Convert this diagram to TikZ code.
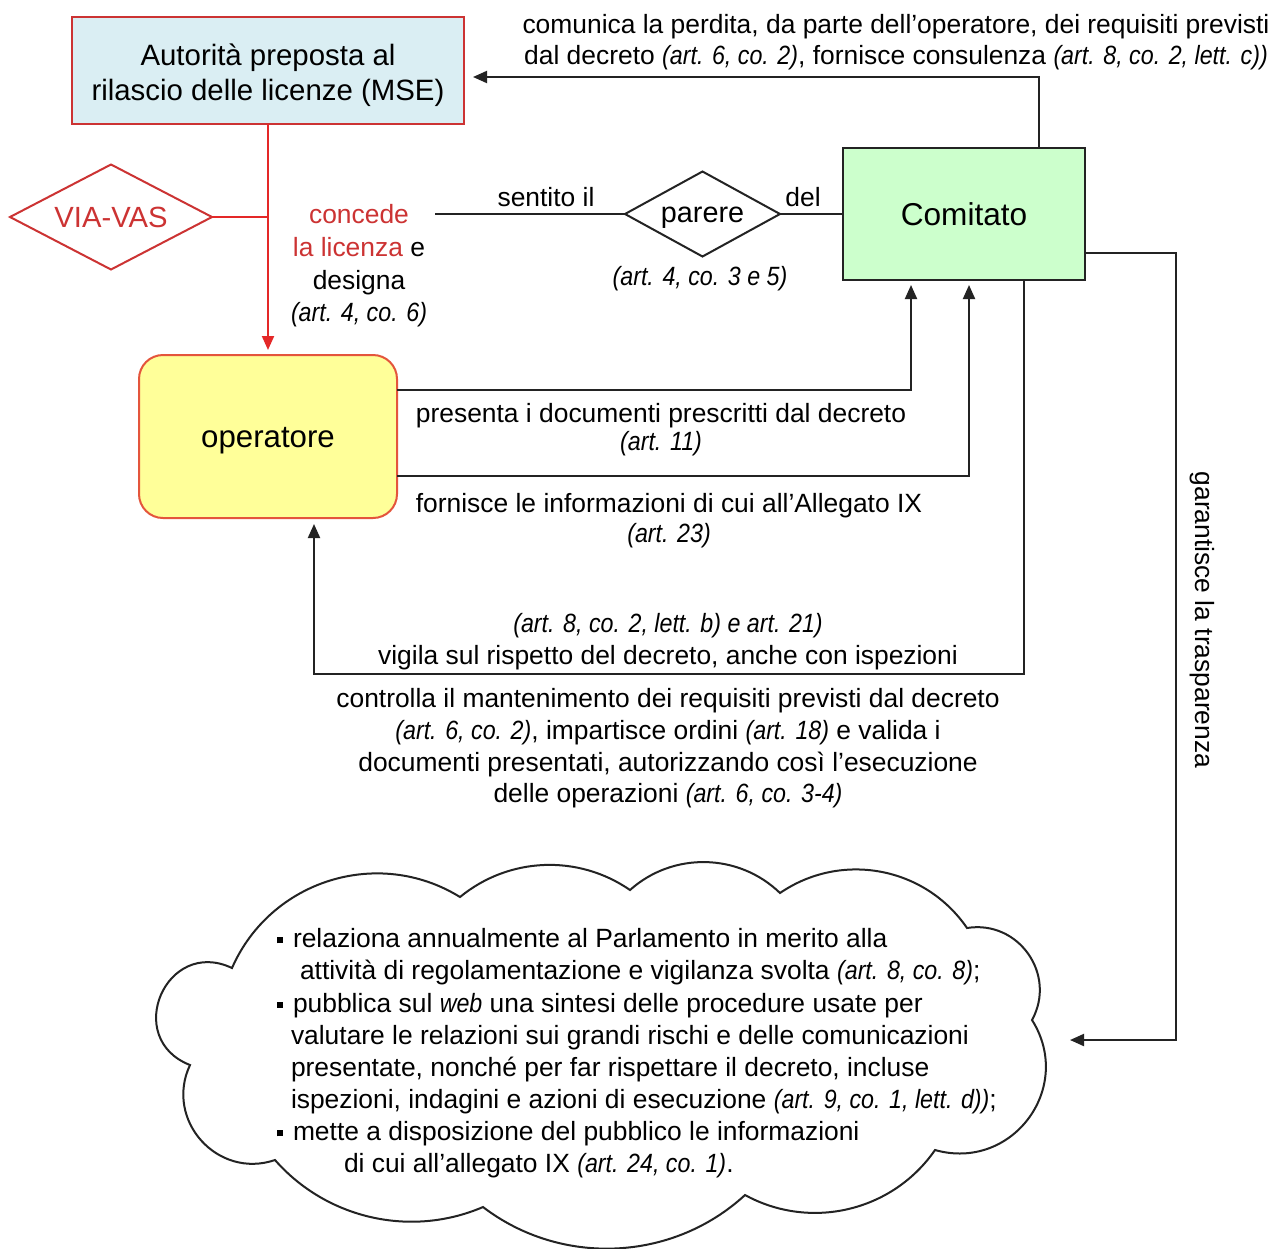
\documentclass[tikz,border=0pt]{standalone}
\usepackage{fontspec}
\setmainfont{Liberation Sans}[ItalicFeatures={FakeStretch=0.88}]
\usetikzlibrary{arrows.meta,shapes.geometric}
\definecolor{cred}{RGB}{204,51,51}
\definecolor{aredline}{RGB}{228,40,40}
\definecolor{autfill}{RGB}{218,238,243}
\definecolor{comfill}{RGB}{204,255,204}
\definecolor{opfill}{RGB}{255,255,153}
\definecolor{opborder}{RGB}{228,85,60}
\definecolor{dk}{RGB}{35,35,35}
\newcommand{\bul}{\rule[2.2pt]{3pt}{3pt}\hspace*{5pt}}
\newcommand{\lowr}[2]{\raisebox{#1}[\height][\depth]{#2}}
\begin{document}
\begin{tikzpicture}[x=0.5pt,y=-0.5pt,
  every node/.style={inner sep=0pt, outer sep=0pt},
  lbl/.style={font=\fontsize{13.2}{#1}\selectfont, align=center},
  lbl/.default=16pt,
  ln/.style={draw=dk, line width=1pt},
  redln/.style={draw=aredline, line width=1pt},
  arr/.style={-{Triangle[length=7pt,width=6pt]}},
  boxstyle/.style={line width=1pt, align=center}
]
\useasboundingbox (0,0) rectangle (1272,1248);
\fill[white] (0,0) rectangle (1272,1248);

% cloud
\draw[ln, fill=white]
  (232,968) to[bend left=49, looseness=1.03] (460,897)
  to[bend left=37, looseness=0.95] (630,890)
  to[bend left=43, looseness=0.98] (780,893)
  to[bend left=45, looseness=1.0] (967,928)
  to[bend left=64, looseness=1.18] (1032,1020)
  to[bend left=69, looseness=1.26] (935,1150)
  to[bend left=42, looseness=0.98] (745,1195)
  to[bend left=40, looseness=0.96] (483,1207)
  to[bend left=36, looseness=0.94] (275,1160)
  to[bend left=67, looseness=1.22] (190,1065)
  to[bend left=92, looseness=1.76] (232,968) -- cycle;

% main nodes
\node[boxstyle, draw=cred, fill=autfill, minimum width=196pt, minimum height=53.5pt,
      font=\fontsize{14.7}{17.5}\selectfont] (autorita) at (268,70.5)
      {\lowr{-2.5pt}{\begin{tabular}{@{}c@{}}Autorità preposta al\\rilascio delle licenze (MSE)\end{tabular}}};
\node[boxstyle, draw=dk, fill=comfill, minimum width=121pt, minimum height=66pt,
      font=\fontsize{15.8}{18}\selectfont] (comitato) at (964,214) {Comitato};
\node[boxstyle, draw=opborder, fill=opfill, rounded corners=12pt, minimum width=129pt,
      minimum height=81.5pt, font=\fontsize{15.6}{18}\selectfont] (operatore) at (268,436.5) {\lowr{-2pt}{operatore}};
\node[boxstyle, diamond, shape aspect=2, draw=cred, text=cred, minimum width=101pt, minimum height=52.5pt,
      font=\fontsize{14.6}{17}\selectfont] (via) at (111,217) {VIA-VAS};
\node[boxstyle, diamond, shape aspect=1.85, draw=dk, minimum width=77.5pt, minimum height=42.5pt,
      font=\fontsize{14.4}{17}\selectfont] (parere) at (702.5,214) {\lowr{-2pt}{parere}};

% labels
\node[lbl=15.5pt] (toplbl) at (896,42.5)
  {comunica la perdita, da parte dell'operatore, dei requisiti previsti\\
   dal decreto \textit{(art. 6, co. 2)}, fornisce consulenza \textit{(art. 8, co. 2, lett. c))}};
\node[lbl=16.3pt] (concede) at (359,266)
  {{\color{cred}concede}\\{\color{cred}la licenza} e\\designa\\\textit{(art. 4, co. 6)}};
\node[lbl] (sentito) at (546,197) {sentito il};
\node[lbl] (del) at (803,197) {del};
\node[lbl] (art435) at (700,279) {\textit{(art. 4, co. 3 e 5)}};
\node[lbl=14pt] (presenta) at (661,430)
  {presenta i documenti prescritti dal decreto\\\textit{(art. 11)}};
\node[lbl=15pt] (fornisce) at (669,521)
  {fornisce le informazioni di cui all'Allegato IX\\\textit{(art. 23)}};
\node[lbl=16pt] (vigila) at (668,642)
  {\textit{(art. 8, co. 2, lett. b) e art. 21)}\\vigila sul rispetto del decreto, anche con ispezioni};
\node[lbl=15.85pt] (controlla) at (668,748.5)
  {controlla il mantenimento dei requisiti previsti dal decreto\\
   \textit{(art. 6, co. 2)}, impartisce ordini \textit{(art. 18)} e valida i\\
   documenti presentati, autorizzando così l'esecuzione\\
   delle operazioni \textit{(art. 6, co. 3-4)}};
\node[lbl, rotate=-90] (garantisce) at (1202,620) {garantisce la trasparenza};
\node[font=\fontsize{13.2}{16.07pt}\selectfont, align=left, anchor=west] (cloudtxt) at (277,1053.5)
  {\bul relaziona annualmente al Parlamento in merito alla\\
   \hspace*{11.5pt}attività di regolamentazione e vigilanza svolta \textit{(art. 8, co. 8)};\\
   \bul pubblica sul \textit{web} una sintesi delle procedure usate per\\
   \hspace*{7pt}valutare le relazioni sui grandi rischi e delle comunicazioni\\
   \hspace*{7pt}presentate, nonché per far rispettare il decreto, incluse\\
   \hspace*{7pt}ispezioni, indagini e azioni di esecuzione \textit{(art. 9, co. 1, lett. d))};\\
   \bul mette a disposizione del pubblico le informazioni\\
   \hspace*{33.5pt}di cui all'allegato IX \textit{(art. 24, co. 1)}.};

\coordinate (c1) at (435,214);
\coordinate (cloudin) at (1070,1040);

% connectors
\draw[redln, arr, shorten >=2.5pt] (autorita.south) -- (operatore.north);
\draw[redln] (via.east) -- (via.east -| autorita.south);
\draw[ln] (c1) -- (parere.west);
\draw[ln] (parere.east) -- (comitato.west);
\draw[ln, arr, shorten >=4.5pt] ([xshift=37.5pt]comitato.north) |- ([yshift=-3.25pt]autorita.east);
\draw[ln, arr, shorten >=2.5pt] ([yshift=23.25pt]operatore.east) -| ([xshift=-26.5pt]comitato.south);
\draw[ln, arr, shorten >=2.5pt] ([yshift=-19.75pt]operatore.east) -| ([xshift=2.5pt]comitato.south);
\draw[ln, arr, shorten >=3pt] ([xshift=30pt]comitato.south) |- ([xshift=23pt,yshift=-78pt]operatore.south) -- ([xshift=23pt]operatore.south);
\draw[ln, arr] ([yshift=-19.5pt]comitato.east) -- ++(45.5pt,0) |- (cloudin);
\end{tikzpicture}
\end{document}
